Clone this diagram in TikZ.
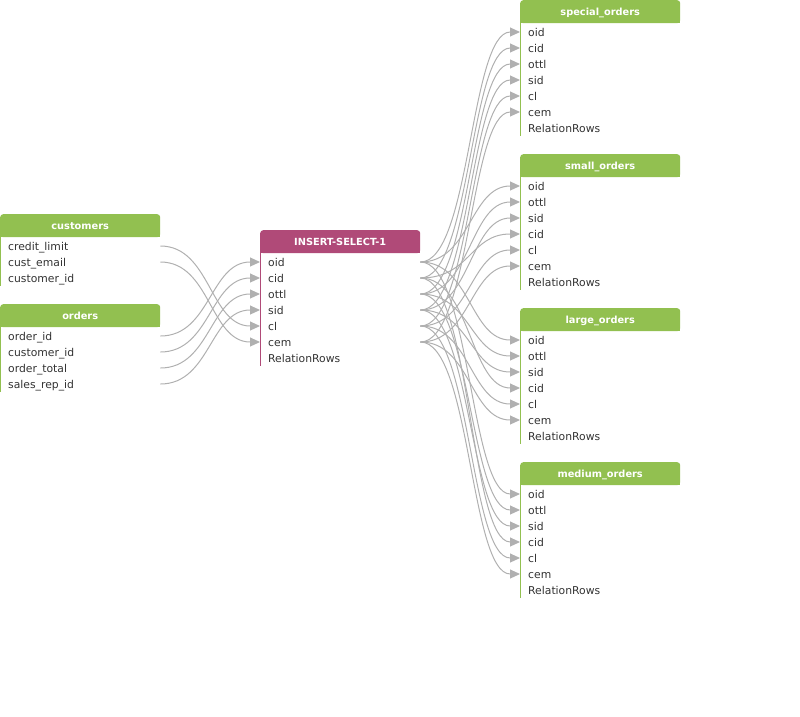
\documentclass[tikz,border=0pt]{standalone}
\usepackage{fontspec}
\setmainfont{DejaVu Sans}
\usetikzlibrary{arrows.meta,backgrounds}
\definecolor{hdrgreen}{HTML}{92C050}
\definecolor{hdrpink}{HTML}{B04A78}
\definecolor{edgegray}{HTML}{B0B0B0}
\definecolor{rowtext}{HTML}{333333}
\tikzset{
  hdr/.style={fill=#1, rounded corners=3pt, text=white, font=\bfseries\fontsize{9.8}{12}\selectfont, minimum width=160pt, minimum height=23pt, inner sep=0pt, anchor=north west, text height=9.5pt, text depth=2pt},
  tblrow/.style={text width=144pt, inner xsep=8pt, inner ysep=0pt, minimum height=16pt, align=left, anchor=west, text=rowtext, font=\fontsize{10.8}{13}\selectfont, text height=10pt, text depth=1pt},
  conn/.style={draw=edgegray, line width=1pt, -{Triangle[length=10pt,width=9pt]}},
  sidebar/.style={draw=#1, line width=1pt},
}
\begin{document}
\begin{tikzpicture}[x=1pt,y=-1pt]
\useasboundingbox (0,0) rectangle (800,716);
% ---- customers
\node[hdr=hdrgreen] (customers) at (0,214) {customers};
\node[tblrow] (cu-cl) at (0,246) {credit\_limit};
\node[tblrow] (cu-cem) at (0,262) {cust\_email};
\node[tblrow] (cu-cid) at (0,278) {customer\_id};
\draw[sidebar=hdrgreen] ([xshift=0.5pt]customers.south west) -- ([xshift=0.5pt]cu-cid.south west);
% ---- orders
\node[hdr=hdrgreen] (orders) at (0,304) {orders};
\node[tblrow] (or-oid) at (0,336) {order\_id};
\node[tblrow] (or-cid) at (0,352) {customer\_id};
\node[tblrow] (or-ottl) at (0,368) {order\_total};
\node[tblrow] (or-sid) at (0,384) {sales\_rep\_id};
\draw[sidebar=hdrgreen] ([xshift=0.5pt]orders.south west) -- ([xshift=0.5pt]or-sid.south west);
% ---- INSERT-SELECT-1
\node[hdr=hdrpink] (ins) at (260,230) {INSERT-SELECT-1};
\foreach \f [count=\i] in {oid,cid,ottl,sid,cl,cem}
  \node[tblrow] (in-\f) at (260,{246+16*\i}) {\f};
\node[tblrow] (in-rr) at (260,358) {RelationRows};
\draw[sidebar=hdrpink] ([xshift=0.5pt]ins.south west) -- ([xshift=0.5pt]in-rr.south west);
% ---- special_orders
\node[hdr=hdrgreen] (special) at (520,0) {special\_orders};
\foreach \f [count=\i] in {oid,cid,ottl,sid,cl,cem}
  \node[tblrow] (sp-\f) at (520,{16+16*\i}) {\f};
\node[tblrow] (sp-rr) at (520,128) {RelationRows};
\draw[sidebar=hdrgreen] ([xshift=0.5pt]special.south west) -- ([xshift=0.5pt]sp-rr.south west);
% ---- small_orders
\node[hdr=hdrgreen] (small) at (520,154) {small\_orders};
\foreach \f [count=\i] in {oid,ottl,sid,cid,cl,cem}
  \node[tblrow] (sm-\f) at (520,{170+16*\i}) {\f};
\node[tblrow] (sm-rr) at (520,282) {RelationRows};
\draw[sidebar=hdrgreen] ([xshift=0.5pt]small.south west) -- ([xshift=0.5pt]sm-rr.south west);
% ---- large_orders
\node[hdr=hdrgreen] (large) at (520,308) {large\_orders};
\foreach \f [count=\i] in {oid,ottl,sid,cid,cl,cem}
  \node[tblrow] (lg-\f) at (520,{324+16*\i}) {\f};
\node[tblrow] (lg-rr) at (520,436) {RelationRows};
\draw[sidebar=hdrgreen] ([xshift=0.5pt]large.south west) -- ([xshift=0.5pt]lg-rr.south west);
% ---- medium_orders
\node[hdr=hdrgreen] (medium) at (520,462) {medium\_orders};
\foreach \f [count=\i] in {oid,ottl,sid,cid,cl,cem}
  \node[tblrow] (md-\f) at (520,{478+16*\i}) {\f};
\node[tblrow] (md-rr) at (520,590) {RelationRows};
\draw[sidebar=hdrgreen] ([xshift=0.5pt]medium.south west) -- ([xshift=0.5pt]md-rr.south west);
% ---- square bottom corners of headers
\begin{scope}[on background layer]
  \foreach \h in {customers,orders,special,small,large,medium}
    \fill[hdrgreen] (\h.west) rectangle (\h.south east);
  \fill[hdrpink] (ins.west) rectangle (ins.south east);
\end{scope}
% ---- connectors into INSERT-SELECT-1
\draw[conn] (cu-cl.east) .. controls +(50,0) and +(-50,0) .. (in-cl.west);
\draw[conn] (cu-cem.east) .. controls +(50,0) and +(-50,0) .. (in-cem.west);
\draw[conn] (or-oid.east) .. controls +(50,0) and +(-50,0) .. (in-oid.west);
\draw[conn] (or-cid.east) .. controls +(50,0) and +(-50,0) .. (in-cid.west);
\draw[conn] (or-ottl.east) .. controls +(50,0) and +(-50,0) .. (in-ottl.west);
\draw[conn] (or-sid.east) .. controls +(50,0) and +(-50,0) .. (in-sid.west);
% ---- connectors out of INSERT-SELECT-1
\foreach \f in {oid,cid,ottl,sid,cl,cem}
  \foreach \t in {sp,sm,lg,md}
    \draw[conn] (in-\f.east) .. controls +(50,0) and +(-50,0) .. (\t-\f.west);
\end{tikzpicture}
\end{document}
